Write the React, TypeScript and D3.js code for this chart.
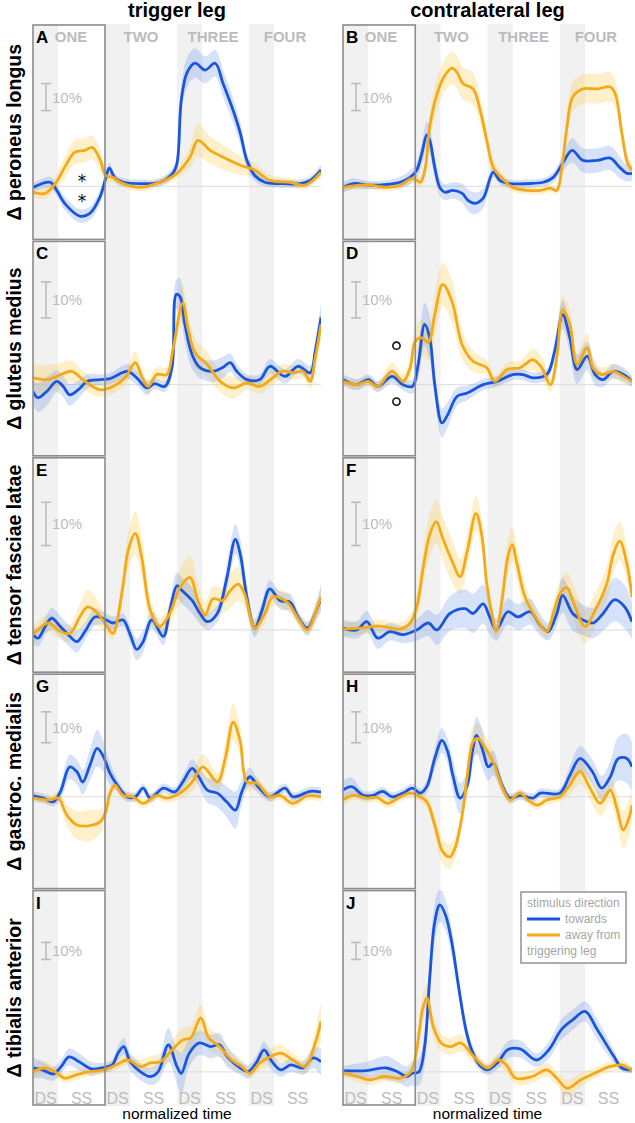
import React from 'react';
import * as d3 from 'd3';

const W = 635;
const H = 1123;
const FONT = "'Liberation Sans', Arial, Helvetica, sans-serif";

const columnTitles = ['trigger leg', 'contralateral leg'];
const muscles = ['Δ peroneus longus', 'Δ gluteus medius', 'Δ tensor fasciae latae', 'Δ gastroc. medialis', 'Δ tibialis anterior'];
const panelLetters = [['A', 'B'], ['C', 'D'], ['E', 'F'], ['G', 'H'], ['I', 'J']];
const stepLabels = ['ONE', 'TWO', 'THREE', 'FOUR'];
const phaseLabels = ['DS', 'SS'];
const xAxisLabel = 'normalized time';
const rowDomains = [[-20, 60], [-20, 40], [-10, 40], [-30, 40], [-20, 107]];
const scaleBarBase = [28, 18.5, 19.5, 17.5, 66];
const scaleBarSize = 10;
const scaleBarLabel = '10%';
const dsFraction = 0.35;
const legendTitle = 'stimulus direction';
const legendItems = ['towards', 'away from'];
const legendFooter = 'triggering leg';

// [normalized time (steps), Δ activity %, CI half-width %]
const peroneusTriggerTowards = [[0,-0.4,1.5],[0.24,1.5,2],[0.33,-1.5,2],[0.44,-6.3,2.5],[0.65,-11,2.5],[0.79,-10,2.5],[0.93,-4,2.5],[1.01,3,2],[1.06,6.7,2],[1.14,3,1.5],[1.25,1.5,1.5],[1.49,1,1.5],[1.76,1.5,1.5],[1.94,4.8,2],[2.0,8.5,3],[2.06,32,5],[2.14,42,5.5],[2.25,45.5,5.5],[2.39,43,5],[2.53,45.5,5],[2.64,38,5],[2.78,28,4.5],[2.88,19.6,4],[2.97,9.6,3],[3.08,4,2],[3.22,1.5,1.5],[3.43,1,1.5],[3.71,1,1.5],[3.85,2.2,1.5],[4,6,2]];
const peroneusTriggerAway = [[0,-2.2,2],[0.17,-2.6,2],[0.31,1,2.5],[0.44,7,4],[0.58,12.6,4.5],[0.72,13.3,4.5],[0.82,14.4,4.5],[0.93,10,4],[1.01,4,3],[1.11,3.3,2],[1.21,1.5,1.5],[1.49,-0.4,1.5],[1.76,1.5,1.5],[2.0,4.8,2],[2.18,10.7,4],[2.29,17,6],[2.46,13.3,5],[2.67,10.4,4.5],[2.88,7.8,3.5],[3.08,6,2.5],[3.29,2.2,2],[3.57,1.5,1.5],[3.78,0.4,1.5],[4,5.2,2]];
const peroneusContraTowards = [[0,-0.4,2],[0.14,1,2],[0.37,0.4,1.5],[0.61,0.7,1.5],[0.79,1.5,2],[0.93,3.3,2.5],[1.02,6,3],[1.09,12,4],[1.16,19,5],[1.2,17,5],[1.27,7,4],[1.34,-0.4,3],[1.41,-2.2,3],[1.52,-1.5,3],[1.65,-2.6,3.5],[1.73,-5.2,4],[1.83,-6.3,4],[1.94,-4.4,3.5],[2.08,5.2,2],[2.17,2.2,1.5],[2.31,1,1.5],[2.55,1,1.5],[2.77,1.5,1.5],[2.91,3.3,2],[3.04,8.5,3],[3.17,13.3,4.5],[3.32,9.6,4.5],[3.52,9.6,4.5],[3.7,10.4,4.5],[3.83,7,4],[3.93,4.8,3],[4,4.8,3]];
const peroneusContraAway = [[0,-0.4,1.5],[0.24,0.4,1.5],[0.37,0.4,1.5],[0.61,-0.4,1.5],[0.79,0.4,1.5],[0.97,3,2],[1.07,1.5,2],[1.14,7,3],[1.2,22,5],[1.3,34,6],[1.41,41,6],[1.51,43.7,6],[1.58,42,6],[1.66,38,6],[1.8,36,6],[1.9,28,5],[1.99,17,4],[2.08,7,3],[2.2,3,2],[2.35,-0.4,1.5],[2.55,-1.5,1.5],[2.73,-1.5,1.5],[2.87,-0.7,1.5],[2.96,-1.5,1.5],[3.03,7,3],[3.1,22,5],[3.18,33,5.5],[3.32,36,5.5],[3.52,36,5.5],[3.7,36.7,5.5],[3.77,34,5],[3.86,19.6,4],[3.94,8.5,3],[4,6,2.5]];

const gluteusTriggerTowards = [[0,-1.9,3],[0.07,-3.6,4],[0.19,-1.9,4],[0.33,0.9,3],[0.42,-0.5,3],[0.51,-2.8,3],[0.63,-1.4,2.5],[0.75,0.9,2],[0.93,1.4,1.5],[1.07,1.7,1.5],[1.31,3.7,2],[1.44,1.9,2],[1.58,-0.9,2],[1.69,0.3,1.5],[1.83,-0.5,1.5],[1.93,4.7,2.5],[1.99,25,4],[2.04,24.5,5],[2.11,16.7,5],[2.21,8.3,4],[2.32,4.7,3],[2.5,3.7,3],[2.63,4.7,3],[2.74,6.1,2.5],[2.83,3.7,2],[2.97,1.4,1.5],[3.15,1.4,1.5],[3.29,5.1,2],[3.5,2.3,2],[3.68,5.1,2],[3.85,3.3,2],[3.92,9.3,3],[4,18.6,4]];
const gluteusTriggerAway = [[0,1.9,4],[0.19,1.4,4],[0.33,2.3,3.5],[0.54,3.7,3],[0.69,1.4,2.5],[0.93,-1.4,2],[1.11,-0.5,2],[1.28,1.9,2],[1.42,6.1,3],[1.51,2.3,2.5],[1.6,-0.5,2],[1.72,2.8,2],[1.86,2.8,2],[1.94,9.3,3],[2.08,22.7,5],[2.15,15.8,5],[2.25,8.9,4],[2.42,5.6,3.5],[2.6,0.9,3],[2.78,-0.9,3],[2.97,0.5,2],[3.15,-0.5,2],[3.33,1.9,2],[3.46,3.7,2],[3.61,3.3,2],[3.75,3.7,2],[3.85,0.9,2],[3.92,7.4,3],[4,16.7,4]];
const gluteusContraTowards = [[0,1.4,1.5],[0.19,0,1.5],[0.35,1.4,1.5],[0.48,-0.5,1.5],[0.68,2.3,2],[0.83,0,1.5],[0.96,-0.5,2],[1.04,5.6,4],[1.13,16.7,6],[1.2,13,6],[1.27,0,4],[1.37,-10.6,4],[1.45,-8.3,3.5],[1.58,-3.2,2.5],[1.72,-2.3,2],[1.94,0,1.5],[2.13,0.9,1.5],[2.35,2.8,1.5],[2.49,2.8,1.5],[2.63,1.9,1.5],[2.82,2.8,1.5],[2.93,9.3,3],[3.04,19.4,4],[3.14,13,4],[3.24,4.2,4],[3.38,7.9,4],[3.49,2.8,3],[3.6,1.4,2],[3.74,3.7,2],[3.88,2.8,2],[4,0.9,1.5]];
const gluteusContraAway = [[0,0.9,1.5],[0.19,0,1.5],[0.35,0.9,1.5],[0.48,-0.5,1.5],[0.68,3.7,2.5],[0.83,0.9,2],[0.93,4.7,3],[1,12,4],[1.09,13,5],[1.18,11.7,5],[1.27,19.4,6],[1.38,27.8,6],[1.51,23,6],[1.65,11,4],[1.8,6.5,3],[1.99,4.7,2],[2.1,0.9,1.5],[2.27,4.2,2],[2.45,4.7,2],[2.63,6.9,3],[2.75,4.7,3],[2.87,0,2],[2.96,7.5,3],[3.04,20.8,4],[3.14,16.7,4],[3.24,5.6,3],[3.38,10.3,4],[3.46,4.7,3],[3.58,2.8,2],[3.74,3.7,2],[3.88,2.3,2],[4,0.9,1.5]];

const tensorTriggerTowards = [[0,-1.1,2],[0.07,-1.9,2],[0.17,0.8,2],[0.26,2.7,2.5],[0.38,0.8,2.5],[0.49,-1.1,2.5],[0.61,-2.7,2.5],[0.72,-0.4,2],[0.86,3,2],[0.97,2.7,1.5],[1.11,1.6,1.5],[1.25,2.3,1.5],[1.35,-1.1,2],[1.44,-4.5,2.5],[1.53,-2.7,2.5],[1.65,2.3,2],[1.81,-1.5,2],[1.9,4.5,2],[2,10.2,3],[2.07,9.1,3],[2.21,6.8,3],[2.32,3.8,2.5],[2.42,1.9,2],[2.56,3.8,2],[2.69,11.8,3],[2.81,20.9,3.5],[2.88,17.4,3.5],[2.97,7.6,3],[3.08,0.4,2],[3.18,4.5,2],[3.29,9.5,2],[3.43,6.8,2],[3.57,6.4,2],[3.68,3,1.5],[3.81,0.4,1.5],[3.92,3.8,2],[4,7.2,3]];
const tensorTriggerAway = [[0,-1.1,2],[0.21,1.6,2],[0.35,0,2],[0.51,-0.8,2],[0.65,3,3],[0.76,5.3,4],[0.9,3.8,3],[1.03,0.8,2],[1.11,-0.8,1.5],[1.24,9.1,3],[1.32,18.2,4],[1.42,22.3,5],[1.51,16.7,5],[1.63,4.5,3],[1.76,0.8,2],[1.9,3.8,2.5],[2.04,9.8,4],[2.18,12.1,5],[2.29,6.8,4],[2.39,3.4,3],[2.5,7.2,3],[2.63,6.8,3],[2.74,9.1,4],[2.85,10.6,4],[2.94,8.3,3],[3.08,0.4,1.5],[3.22,3.8,2],[3.33,7.6,2],[3.53,6.4,2],[3.68,2.7,1.5],[3.81,0,1.5],[3.92,3.8,2],[4,7.6,3]];
const tensorContraTowards = [[0,0.4,2],[0.19,0,2],[0.33,1.9,2.5],[0.48,-1.9,2.5],[0.65,-0.4,2],[0.83,-1.1,2],[1.02,0,2.5],[1.18,1.6,3],[1.3,0,3.5],[1.48,3.8,4],[1.69,4.9,4.5],[1.8,3.8,4.5],[1.94,6,4.5],[2.03,3,4],[2.12,0,2.5],[2.28,4.2,3],[2.42,3,3],[2.59,4.2,3],[2.73,1.1,2.5],[2.84,-0.4,2],[2.96,3.8,3],[3.04,8,4],[3.18,3.8,4],[3.32,2.3,3.5],[3.46,1.6,3.5],[3.6,3.8,4],[3.76,7,5],[3.9,5.3,5],[4,1.9,4]];
const tensorContraAway = [[0,0.2,1.5],[0.24,0.4,1.5],[0.51,0.9,1.5],[0.79,0.2,1.5],[0.93,1.6,2],[1.02,5.3,3],[1.11,14.4,4],[1.2,22,5],[1.29,25,5],[1.38,21.2,5],[1.51,15.9,5],[1.62,12.3,4],[1.72,18.2,4],[1.84,26.9,4],[1.92,22,4],[1.99,10.6,3],[2.06,3.8,2],[2.12,-0.4,1.5],[2.2,6.8,3],[2.28,16.7,4],[2.34,19.7,4],[2.41,15.2,4],[2.52,7.6,3],[2.69,2.3,2],[2.82,-0.4,1.5],[2.91,3.8,2.5],[3,8.3,3],[3.1,9.8,3.5],[3.18,6.8,4],[3.35,0.8,4],[3.49,4.5,4],[3.65,10.6,4],[3.74,17.4,4.5],[3.83,20.5,4.5],[3.93,15.2,4],[4,7.6,3]];

const gastrocTriggerTowards = [[0,0.3,1.5],[0.14,-0.4,1.5],[0.28,-1.6,1.5],[0.38,1.6,2.5],[0.51,9.7,4],[0.61,8.1,4],[0.69,4.8,4],[0.79,10.2,5],[0.89,15.7,6],[0.97,13.4,5],[1.07,7.6,3.5],[1.17,3.8,2],[1.31,0,1.5],[1.42,0,1.5],[1.53,2.8,1.5],[1.63,-0.4,1.5],[1.81,2.8,1.5],[1.97,1.6,1.5],[2.08,4.8,2],[2.21,9.2,3],[2.29,7,3],[2.42,2.2,4],[2.56,1.2,4.5],[2.69,-1.6,5],[2.81,-4.3,6],[2.9,1.6,4],[3.01,6.5,3],[3.13,3.2,2],[3.29,0,1.5],[3.5,2.8,1.5],[3.61,0,1.5],[3.85,1.8,1.5],[4,1.5,1.5]];
const gastrocTriggerAway = [[0,-0.3,1.5],[0.24,-1,1.5],[0.35,-0.4,2],[0.47,-5.9,3.5],[0.61,-9.1,4.5],[0.79,-9.3,5],[0.93,-8.1,4],[1.01,-4.8,3],[1.07,1.2,2],[1.14,3.8,1.5],[1.25,0.5,1.5],[1.39,0,1.5],[1.53,-2.1,1.5],[1.72,0.5,1.5],[1.86,-0.4,1.5],[2.04,1.2,2],[2.21,4.8,3],[2.36,9.7,4],[2.56,4.8,3],[2.67,12.4,5],[2.78,24.2,6],[2.88,17.7,5],[2.97,4.8,3],[3.11,4.4,2],[3.29,0,1.5],[3.43,0.5,1.5],[3.61,-2.1,1.5],[3.81,0.3,1.5],[4,0,1.5]];
const gastrocContraTowards = [[0,2.2,3],[0.12,3.3,3],[0.28,0.5,1.5],[0.42,0.5,1.5],[0.55,1.8,1.5],[0.68,0,1.5],[0.83,1.2,1.5],[0.96,2.8,1.5],[1.07,1.2,1.5],[1.16,3.3,2],[1.27,12.4,3.5],[1.37,18.3,4],[1.45,14.6,4],[1.52,7,5],[1.62,-0.4,5],[1.72,3.8,4],[1.79,14.6,5],[1.85,19.9,6],[1.94,14.6,6],[2.01,9.7,4.5],[2.08,10.9,4],[2.2,3.8,2],[2.31,-0.4,1.5],[2.45,0.5,1.5],[2.63,-0.4,1.5],[2.73,1.2,1.5],[3,1.2,1.5],[3.14,7,3],[3.28,12.4,4],[3.45,8.2,4],[3.58,2.8,4],[3.7,6.5,5],[3.81,12.4,7],[3.93,12.4,8],[4,9.7,8]];
const gastrocContraAway = [[0,-1,2],[0.14,0.5,1.5],[0.33,-0.4,1.5],[0.47,-0.2,1.5],[0.62,-2.1,1.5],[0.79,0,1.5],[0.93,1.2,1.5],[1.04,0.3,1.5],[1.16,-1.6,2],[1.27,-9.1,3],[1.38,-17.7,4],[1.48,-19.4,4],[1.55,-16.6,3.5],[1.65,-5.9,3],[1.72,7,3.5],[1.8,17.8,5],[1.87,18.9,5],[1.97,15.7,4],[2.03,13.5,3.5],[2.1,10.2,3],[2.2,3.3,2],[2.31,-1,1.5],[2.45,1.2,1.5],[2.56,-1,1.5],[2.69,-2.7,1.5],[2.82,-1,1.5],[3,0,1.5],[3.14,3.8,3],[3.28,8.2,4],[3.42,2.8,4],[3.56,-2.1,4],[3.7,2.2,4],[3.79,-3.7,5],[3.88,-10.7,6],[3.97,-5.9,6],[4,-2.7,5]];

const tibialisTriggerTowards = [[0,2.3,6],[0.13,1.2,5],[0.28,-1.2,4],[0.39,3.1,4],[0.5,8.8,5],[0.64,6,5],[0.81,1.8,4],[0.95,2.3,3],[1.1,4.1,3],[1.18,11,4],[1.26,14.9,5],[1.35,6,5],[1.49,0.2,5],[1.63,-2.7,5],[1.74,0.2,6],[1.88,15.9,10],[2,3.1,10],[2.06,-0.8,12],[2.17,11,8],[2.31,17,7],[2.47,14.9,7],[2.59,15.9,7],[2.7,8.8,6],[2.88,2.3,4],[2.99,0.2,4],[3.1,5.3,4],[3.21,12.9,5],[3.32,6,5],[3.44,1.2,4],[3.58,4.1,4],[3.75,2.3,4],[3.89,8.2,6],[4,6,8]];
const tibialisTriggerAway = [[0,0,4],[0.16,2.3,4],[0.31,0,3],[0.44,-3.7,3],[0.58,-2,3],[0.76,0,2.5],[0.98,1.2,2.5],[1.15,4.1,3],[1.32,7,3],[1.49,3.1,4],[1.63,5.3,4],[1.77,6,5],[1.91,11.9,6],[2.08,18.8,7],[2.19,20,7],[2.33,31.7,8],[2.44,20,7],[2.59,14.9,6],[2.76,7,5],[2.9,3.1,4],[3.01,-0.8,3],[3.15,5.3,4],[3.29,8.8,5],[3.44,11,5],[3.61,7,4],[3.78,3.1,4],[3.92,17,8],[4,29.6,12]];
const tibialisContraTowards = [[0,0.6,3],[0.32,0.8,5],[0.6,2.3,7],[0.76,0,6],[0.88,-2.7,6],[0.96,-0.8,7],[1.05,0,8],[1.13,14.9,10],[1.2,55,12],[1.27,88,11],[1.34,98,10],[1.42,92,9],[1.51,75,8],[1.6,50,6],[1.7,25,5],[1.78,13,4],[1.89,4.1,3],[2,1.2,3],[2.15,6,4],[2.28,13,5],[2.45,13.5,5],[2.68,7,4],[2.85,13,5],[3.02,24.7,6],[3.18,30.6,6],[3.35,35.5,6],[3.52,24.7,6],[3.75,9,4],[3.86,2.3,2],[4,1.2,2]];
const tibialisContraAway = [[0,-0.4,3],[0.2,-2.7,3],[0.37,-4.7,3],[0.57,-2.7,3],[0.79,-3.7,3],[0.94,0,3],[1.02,13,5],[1.1,36.5,8],[1.16,43.5,8],[1.25,26.6,6],[1.36,17,5],[1.49,14.9,5],[1.63,17,5],[1.81,9,4],[2,2.3,3],[2.15,7,4],[2.26,4.1,4],[2.39,-3.7,4],[2.62,-2.7,4],[2.82,1.2,4],[2.96,-3.7,4],[3.1,-9.6,5],[3.29,-4.7,4],[3.52,0,3],[3.69,3.1,3],[3.86,4.1,3],[4,0.8,2]];

const panelSeries = [
  [[peroneusTriggerTowards, peroneusTriggerAway], [peroneusContraTowards, peroneusContraAway]],
  [[gluteusTriggerTowards, gluteusTriggerAway], [gluteusContraTowards, gluteusContraAway]],
  [[tensorTriggerTowards, tensorTriggerAway], [tensorContraTowards, tensorContraAway]],
  [[gastrocTriggerTowards, gastrocTriggerAway], [gastrocContraTowards, gastrocContraAway]],
  [[tibialisTriggerTowards, tibialisTriggerAway], [tibialisContraTowards, tibialisContraAway]],
];

// significance markers: [row, col, time, value]
const asterisks = [[0, 0, 0.68, 3.4], [0, 0, 0.68, -4.0]];
const circles = [[1, 1, 0.74, 10.8], [1, 1, 0.74, -4.7]];

const BLUE = '#1a55dd';
const ORANGE = '#f4a918';
const BLUE_BAND = 'rgba(90,140,235,0.25)';
const ORANGE_BAND = 'rgba(250,200,70,0.28)';
const GRAY_TXT = '#bcbcbc';

const plotX = [[33, 321], [343, 632]];
const rowTop0 = 24;
const rowH = 216.4;

export default function App() {
  const xs = plotX.map((r) => d3.scaleLinear().domain([0, 4]).range(r));
  const rows = rowDomains.map((dom, i) => {
    const top = rowTop0 + i * rowH;
    return { top, bottom: top + rowH, y: d3.scaleLinear().domain(dom).range([top + rowH, top]) };
  });
  const curve = d3.curveCatmullRom.alpha(0.5);
  const steps = d3.range(4);
  const gridTop = rows[0].top;
  const gridBottom = rows[rows.length - 1].bottom;

  return (
    <svg width={W} height={H} style={{ position: 'absolute', left: 0, top: 0, background: '#fff' }} fontFamily={FONT}>
      <defs>
        {rows.map((r, ri) => xs.map((x, ci) => (
          <clipPath id={`clip-${ri}-${ci}`} key={`c${ri}${ci}`}>
            <rect x={x.range()[0]} y={r.top + 1} width={x.range()[1] - x.range()[0]} height={rowH - 2} />
          </clipPath>
        )))}
      </defs>
      {/* double-support bands */}
      {xs.map((x, ci) => steps.map((s) => (
        <rect key={`ds${ci}${s}`} x={x(s)} y={gridTop} width={x(s + dsFraction) - x(s)} height={gridBottom - gridTop} fill="#f1f1f1" />
      )))}
      {/* column titles */}
      {xs.map((x, ci) => (
        <text key={`t${ci}`} x={(x.range()[0] + x.range()[1]) / 2} y={17} textAnchor="middle" fontWeight="bold" fontSize={20}>{columnTitles[ci]}</text>
      ))}
      {/* step labels */}
      {xs.map((x, ci) => steps.map((s) => (
        <text key={`sl${ci}${s}`} x={x(s + 0.5) + (s === 0 ? 2 : 0)} y={42} textAnchor="middle" fontWeight="bold" fontSize={15} fill={GRAY_TXT}>{stepLabels[s]}</text>
      )))}
      {rows.map((r, ri) => (
        <g key={`row${ri}`}>
          <text transform={`translate(21,${(r.top + r.bottom) / 2}) rotate(-90)`} textAnchor="middle" fontWeight="bold" fontSize={19.5}>{muscles[ri]}</text>
          {xs.map((x, ci) => {
            const [tw, aw] = panelSeries[ri][ci];
            const line = d3.line<number[]>().x((d) => x(d[0])).y((d) => r.y(d[1])).curve(curve);
            const area = d3.area<number[]>().x((d) => x(d[0])).y0((d) => r.y(d[1] - d[2])).y1((d) => r.y(d[1] + d[2])).curve(curve);
            const x0 = x.range()[0];
            const x1 = x.range()[1];
            const barX = x0 + 13;
            const yb0 = r.y(scaleBarBase[ri]);
            const yb1 = r.y(scaleBarBase[ri] + scaleBarSize);
            return (
              <g key={`p${ri}${ci}`}>
                <line x1={x0} x2={x1} y1={r.y(0)} y2={r.y(0)} stroke="#dcdcdc" strokeWidth={1} />
                <g clipPath={`url(#clip-${ri}-${ci})`}>
                  <path d={area(aw) || ''} fill={ORANGE_BAND} />
                  <path d={area(tw) || ''} fill={BLUE_BAND} />
                  <path d={line(tw) || ''} fill="none" stroke={BLUE} strokeWidth={2.8} strokeLinejoin="round" />
                  <path d={line(aw) || ''} fill="none" stroke={ORANGE} strokeWidth={2.8} strokeLinejoin="round" />
                </g>
                <rect x={x0} y={r.top + 1} width={x(1) - x0} height={rowH - 2} fill="none" stroke="#8c8c8c" strokeWidth={1.6} />
                <text x={x0 + 3} y={r.top + 19} fontWeight="bold" fontSize={17}>{panelLetters[ri][ci]}</text>
                <g stroke={GRAY_TXT} strokeWidth={1.6}>
                  <line x1={barX} x2={barX} y1={yb0} y2={yb1} />
                  <line x1={barX - 5} x2={barX + 5} y1={yb0} y2={yb0} />
                  <line x1={barX - 5} x2={barX + 5} y1={yb1} y2={yb1} />
                </g>
                <text x={barX + 6} y={(yb0 + yb1) / 2 + 5.5} fontSize={15} fill={GRAY_TXT}>{scaleBarLabel}</text>
              </g>
            );
          })}
        </g>
      ))}
      {/* significance markers */}
      {asterisks.map(([ri, ci, t, v], i) => (
        <text key={`as${i}`} x={xs[ci](t)} y={rows[ri].y(v) + 10} textAnchor="middle" fontSize={17} fontFamily="'DejaVu Sans', sans-serif">*</text>
      ))}
      {circles.map(([ri, ci, t, v], i) => (
        <circle key={`ci${i}`} cx={xs[ci](t)} cy={rows[ri].y(v)} r={3.6} fill="none" stroke="#111" strokeWidth={1.6} />
      ))}
      {/* phase labels */}
      {xs.map((x, ci) => steps.map((s) => (
        <g key={`ph${ci}${s}`}>
          <text x={x(s + dsFraction / 2)} y={gridBottom - 2} textAnchor="middle" fontSize={16} fill={GRAY_TXT}>{phaseLabels[0]}</text>
          <text x={x(s + dsFraction + (1 - dsFraction) / 2)} y={gridBottom - 2} textAnchor="middle" fontSize={16} fill={GRAY_TXT}>{phaseLabels[1]}</text>
        </g>
      )))}
      {xs.map((x, ci) => (
        <text key={`xl${ci}`} x={(x.range()[0] + x.range()[1]) / 2} y={1119} textAnchor="middle" fontSize={15.5}>{xAxisLabel}</text>
      ))}
      {/* legend */}
      <g>
        <rect x={521} y={892} width={105} height={71} fill="#fff" stroke="#999" strokeWidth={1.6} />
        <text x={527} y={907} fontSize={12} fill="#a6a6a6">{legendTitle}</text>
        <line x1={527} x2={560} y1={919} y2={919} stroke={BLUE} strokeWidth={3} />
        <text x={565} y={923} fontSize={12} fill="#a6a6a6">{legendItems[0]}</text>
        <line x1={527} x2={560} y1={935} y2={935} stroke={ORANGE} strokeWidth={3} />
        <text x={565} y={939} fontSize={12} fill="#a6a6a6">{legendItems[1]}</text>
        <text x={527} y={955} fontSize={12} fill="#a6a6a6">{legendFooter}</text>
      </g>
    </svg>
  );
}
